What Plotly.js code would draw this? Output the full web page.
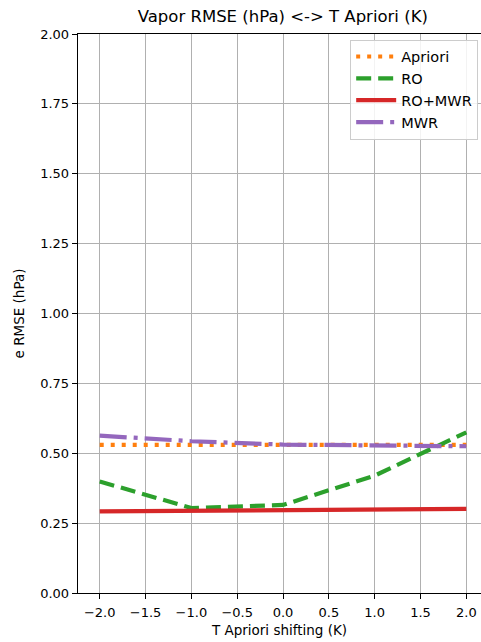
<!DOCTYPE html>
<html>
<head>
<meta charset="utf-8">
<script src="https://cdn.plot.ly/plotly-3.0.1.min.js"></script>
<style>
  html, body { margin: 0; padding: 0; background: #fff; }
  #chart { width: 481px; height: 642px; }
</style>
</head>
<body>
<div id="chart"></div>
<script>
// Temperature a-priori shift (K)
const shifts = [-2.0, -1.0, 0.0, 1.0, 2.0];

// Vapor pressure RMSE (hPa) for each retrieval setup
const aprioriRmse = [0.530, 0.530, 0.530, 0.530, 0.530];
const roRmse      = [0.399, 0.304, 0.315, 0.420, 0.575];
const roMwrRmse   = [0.292, 0.294, 0.296, 0.298, 0.301];
const mwrRmse     = [0.563, 0.543, 0.531, 0.529, 0.525];

const seriesNames = ['Apriori', 'RO', 'RO+MWR', 'MWR'];

const yTicks = [0, 0.25, 0.5, 0.75, 1.0, 1.25, 1.5, 1.75, 2.0];
const xTicks = [-2.0, -1.5, -1.0, -0.5, 0.0, 0.5, 1.0, 1.5, 2.0];

const font = 'DejaVu Sans, sans-serif';

const traces = [
  { x: shifts, y: aprioriRmse, name: seriesNames[0], mode: 'lines',
    line: { color: '#ff7f0e', width: 4.2, dash: '4px,7px' } },
  { x: shifts, y: roRmse, name: seriesNames[1], mode: 'lines',
    line: { color: '#2ca02c', width: 4.2, dash: '15px,7px' } },
  { x: shifts, y: roMwrRmse, name: seriesNames[2], mode: 'lines',
    line: { color: '#d62728', width: 4.2 } },
  { x: shifts, y: mwrRmse, name: seriesNames[3], mode: 'lines',
    line: { color: '#9467bd', width: 4.2, dash: '27px,7px,4px,7px' } }
];

const layout = {
  width: 481, height: 642,
  margin: { l: 78, r: 0, t: 34, b: 49, pad: 0 },
  paper_bgcolor: '#fff', plot_bgcolor: '#fff',
  font: { family: font, size: 13, color: '#000' },
  title: { text: 'Vapor RMSE (hPa) &lt;-&gt; T Apriori (K)',
           font: { family: font, size: 16.5, color: '#000' },
           x: 0.588, xanchor: 'center', y: 0.974, yanchor: 'middle' },
  showlegend: true,
  legend: {
    x: 0.993, xanchor: 'right', y: 0.99, yanchor: 'top',
    bgcolor: 'rgba(255,255,255,0.85)', bordercolor: '#cccccc', borderwidth: 1,
    font: { family: font, size: 14.5, color: '#000' },
    tracegroupgap: 0, itemwidth: 40
  },
  xaxis: {
    range: [-2.237, 2.16],
    tickvals: xTicks, ticktext: xTicks.map(v => v.toFixed(1).replace('-', '\u2212')),
    ticks: 'outside', ticklen: 5, tickwidth: 1, tickcolor: '#000',
    ticklabelstandoff: 2,
    showline: true, linecolor: '#000', linewidth: 1.3, mirror: true,
    showgrid: true, gridcolor: '#b0b0b0', gridwidth: 1, zeroline: false,
    tickfont: { family: font, size: 13, color: '#000' },
    title: { text: 'T Apriori shifting (K)', standoff: 6,
             font: { family: font, size: 13.5, color: '#000' } }
  },
  yaxis: {
    range: [0, 2.0],
    tickvals: yTicks, ticktext: yTicks.map(v => v.toFixed(2)),
    ticks: 'outside', ticklen: 5, tickwidth: 1, tickcolor: '#000',
    showline: true, linecolor: '#000', linewidth: 1.3,
    showgrid: true, gridcolor: '#b0b0b0', gridwidth: 1, zeroline: false,
    tickfont: { family: font, size: 13, color: '#000' },
    title: { text: 'e RMSE (hPa)', standoff: 12,
             font: { family: font, size: 13.5, color: '#000' } }
  }
};

Plotly.newPlot('chart', traces, layout, { displayModeBar: false, staticPlot: true });
</script>
</body>
</html>
